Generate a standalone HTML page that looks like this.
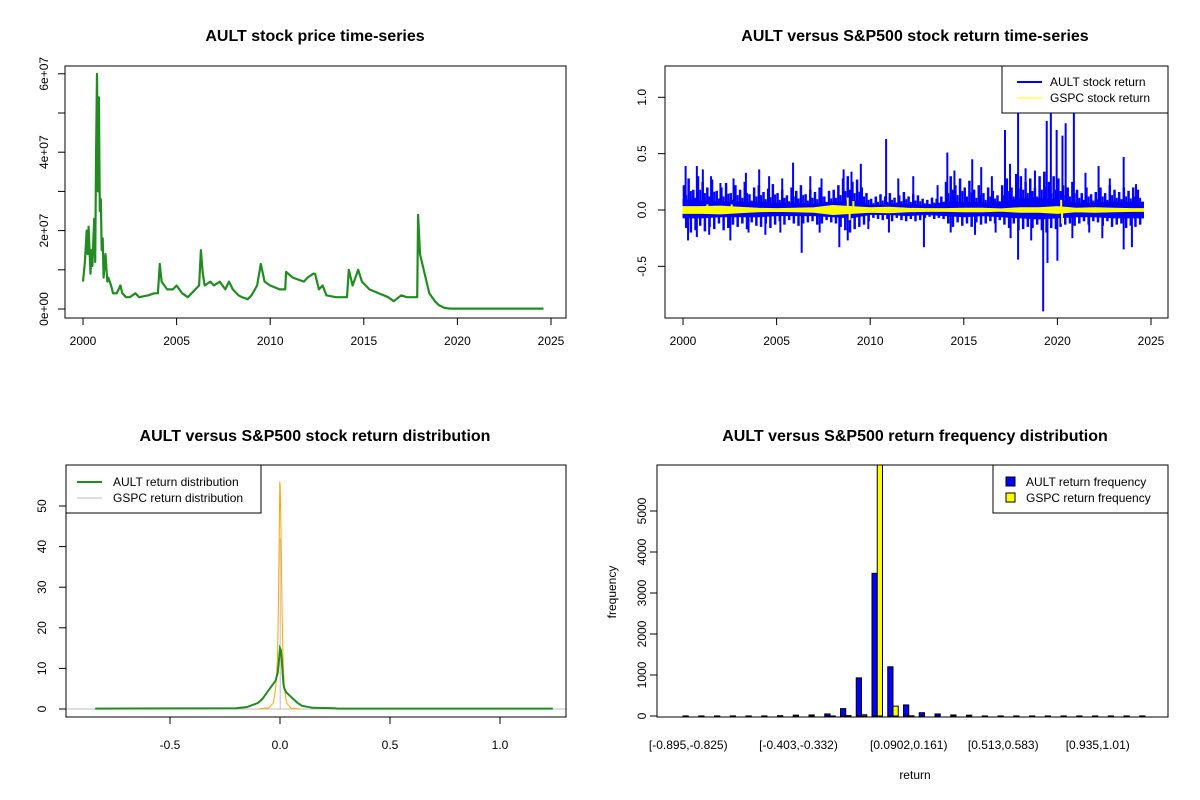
<!DOCTYPE html>
<html><head><meta charset="utf-8"><style>
html,body{margin:0;padding:0;background:#fff;}
svg{display:block;font-family:"Liberation Sans",Arial,sans-serif;}
</style></head><body>
<svg id="fig" width="1200" height="800" viewBox="0 0 1200 800" xmlns="http://www.w3.org/2000/svg">
<rect width="1200" height="800" fill="#fff"/>
</svg>
<script>
// ---------- Panel 1: price ----------
const priceYears = [2000.0,2000.1,2000.2,2000.25,2000.3,2000.4,2000.45,2000.5,2000.6,2000.65,2000.7,2000.75,2000.8,2000.85,2000.9,2000.95,2001.0,2001.05,2001.1,2001.2,2001.3,2001.35,2001.5,2001.6,2001.8,2002.0,2002.1,2002.3,2002.5,2002.8,2003.0,2003.5,2003.8,2004.0,2004.1,2004.2,2004.5,2004.8,2005.0,2005.3,2005.6,2005.8,2006.0,2006.2,2006.3,2006.4,2006.5,2006.8,2007.0,2007.3,2007.6,2007.8,2008.0,2008.3,2008.5,2008.8,2009.0,2009.3,2009.5,2009.7,2010.0,2010.5,2010.8,2010.85,2011.2,2011.5,2011.8,2012.0,2012.3,2012.4,2012.6,2012.8,2013.0,2013.5,2014.0,2014.1,2014.2,2014.4,2014.7,2014.9,2015.3,2015.8,2016.3,2016.6,2017.0,2017.3,2017.7,2017.85,2017.9,2018.0,2018.2,2018.5,2018.8,2019.0,2019.3,2019.6,2024.6];
const priceVals = [7,12,20,14,21,9,15,11,23,12,40,60,30,54,25,28,15,18,8,14,7,8,6,4,4,6,4,3,3,4,3,3.5,4,4,11.5,7,5,5,6,4,3,4,5,6,15,9,6,7,6,7,5,7,5,3.5,3,2.5,3.5,6,11.5,7,6,5,5,9.5,8,7.5,7,8,9,9,5,6,3.5,3,3,3,10,6,10,7,5,4,3,2,3.5,3,3,3,24,14,10,4,2,1,0.3,0.1,0.1];
const priceYTicks = [0,1e7,2e7,3e7,4e7,5e7,6e7];
const priceYLabels = ["0e+00","","2e+07","","4e+07","","6e+07"];
const yearTicks = [2000,2005,2010,2015,2020,2025];

// ---------- Panel 2: returns ----------
const bandYears = [2000,2001,2002,2003,2004,2005,2006,2007,2008,2009,2010,2011,2012,2013,2014,2015,2016,2017,2018,2019,2020,2021,2022,2023,2024,2024.6];
const aultBandUp = [.09,.08,.07,.07,.07,.06,.06,.05,.07,.09,.04,.05,.05,.04,.07,.07,.06,.07,.1,.1,.09,.06,.06,.07,.07,.07];
const aultBandLo = [-.07,-.07,-.06,-.06,-.06,-.05,-.05,-.05,-.06,-.07,-.04,-.04,-.05,-.04,-.05,-.06,-.05,-.06,-.07,-.08,-.07,-.06,-.06,-.07,-.07,-.07];
const gspcBandUp = [.03,.03,.035,.025,.015,.012,.015,.02,.04,.03,.02,.025,.015,.012,.012,.015,.015,.01,.02,.02,.03,.015,.02,.015,.012,.012];
const gspcBandLo = [-.03,-.03,-.035,-.025,-.015,-.012,-.015,-.02,-.04,-.03,-.02,-.025,-.015,-.012,-.012,-.015,-.015,-.01,-.02,-.02,-.03,-.015,-.02,-.015,-.012,-.012];
const medYears = [2000.05,2000.3,2000.55,2000.8,2001.05,2001.3,2001.55,2001.8,2002.05,2002.3,2002.55,2002.8,2003.05,2003.3,2003.55,2003.8,2004.05,2004.3,2004.55,2004.8,2005.05,2005.3,2005.55,2005.8,2006.05,2006.3,2006.55,2006.8,2007.05,2007.3,2007.55,2007.8,2008.05,2008.3,2008.55,2008.8,2009.05,2009.3,2009.55,2009.8,2010.05,2010.3,2010.55,2010.8,2011.05,2011.3,2011.55,2011.8,2012.05,2012.3,2012.55,2012.8,2013.05,2013.3,2013.55,2013.8,2014.05,2014.3,2014.55,2014.8,2015.05,2015.3,2015.55,2015.8,2016.05,2016.3,2016.55,2016.8,2017.05,2017.3,2017.55,2017.8,2018.05,2018.3,2018.55,2018.8,2019.05,2019.3,2019.55,2019.8,2020.05,2020.3,2020.55,2020.8,2021.05,2021.3,2021.55,2021.8,2022.05,2022.3,2022.55,2022.8,2023.05,2023.3,2023.55,2023.8,2024.05,2024.3];
const medUp = [.22,.28,.18,.3,.25,.2,.27,.17,.2,.24,.15,.22,.18,.25,.14,.2,.22,.16,.19,.23,.15,.18,.13,.2,.17,.22,.14,.18,.16,.2,.12,.17,.18,.22,.28,.3,.25,.27,.2,.15,.1,.12,.14,.12,.15,.11,.13,.16,.12,.14,.13,.1,.09,.11,.1,.12,.25,.3,.22,.28,.2,.26,.18,.22,.15,.2,.17,.13,.22,.28,.2,.32,.3,.25,.28,.2,.3,.34,.25,.3,.28,.22,.2,.25,.18,.15,.2,.14,.16,.2,.15,.22,.18,.16,.2,.17,.2,.18];
const medDown = [-.16,-.2,-.18,-.14,-.19,-.15,-.17,-.12,-.18,-.16,-.13,-.15,-.12,-.17,-.11,-.14,-.15,-.12,-.16,-.13,-.1,-.13,-.09,-.12,-.14,-.12,-.11,-.1,-.13,-.12,-.09,-.11,-.12,-.15,-.18,-.2,-.17,-.15,-.13,-.1,-.07,-.08,-.09,-.08,-.1,-.07,-.09,-.1,-.08,-.1,-.09,-.07,-.06,-.08,-.07,-.08,-.12,-.15,-.11,-.14,-.12,-.15,-.11,-.13,-.12,-.1,-.12,-.09,-.13,-.16,-.12,-.18,-.17,-.15,-.16,-.13,-.18,-.2,-.16,-.17,-.15,-.13,-.12,-.14,-.12,-.1,-.13,-.1,-.11,-.14,-.1,-.15,-.13,-.12,-.16,-.14,-.15,-.13];
const spikeYears = [2000.14,2000.74,2001.06,2001.5,2002.0,2002.7,2003.36,2004.07,2004.6,2005.3,2005.88,2006.8,2007.4,2008.58,2009.0,2009.5,2010.85,2011.5,2012.3,2013.6,2014.12,2014.5,2015.45,2015.93,2016.5,2017.2,2017.47,2017.9,2018.3,2018.8,2019.43,2019.65,2019.96,2020.27,2020.44,2020.88,2021.5,2022.2,2022.8,2023.54,2024.2,
  2000.27,2000.74,2001.4,2002.53,2003.5,2004.4,2005.2,2006.34,2007.3,2008.35,2008.8,2009.9,2011.0,2012.87,2014.3,2015.6,2016.7,2017.5,2017.9,2018.6,2019.24,2019.47,2020.0,2020.8,2021.7,2022.4,2023.54,2023.98];
const spikeVals = [.39,.39,.36,.3,.24,.28,.33,.36,.3,.28,.42,.3,.28,.36,.34,.41,.63,.28,.3,.22,.51,.35,.45,.38,.3,.71,.41,.87,.37,.35,.79,.86,.71,.66,.77,.87,.33,.39,.28,.47,.23,
  -.27,-.24,-.22,-.27,-.2,-.22,-.2,-.38,-.2,-.33,-.27,-.17,-.2,-.33,-.2,-.22,-.2,-.25,-.44,-.27,-.9,-.47,-.45,-.25,-.2,-.25,-.35,-.33];
const gspcSpikeYears = [2008.8,2008.9,2009.1,2020.2,2020.25,2001.3,2002.6];
const gspcSpikeVals = [.11,-.09,.08,.09,-.12,.05,.05];
const retYTicks = [-0.5,0,0.5,1.0];
const retYLabels = ["-0.5","0.0","0.5","1.0"];

// ---------- Panel 3: densities ----------
const aultDensX = [-0.84,-0.2,-0.15,-0.1,-0.08,-0.06,-0.04,-0.02,-0.01,-0.003,0,0.004,0.008,0.012,0.016,0.02,0.03,0.04,0.06,0.08,0.1,0.15,0.25,0.26,1.24];
const aultDensY = [0.1,0.2,0.5,1.5,2.5,4,5.5,7,9,13,15,14.5,12,9,6,5,4,3.5,2.5,1.5,0.8,0.3,0.2,0.1,0.1];
const gspcDensX = [-0.1,-0.05,-0.03,-0.02,-0.012,-0.008,-0.004,-0.001,0.001,0.004,0.007,0.01,0.014,0.02,0.03,0.05,0.09];
const gspcDensY = [0,0.3,1.5,5,12,22,40,56,55,45,35,22,12,5,1.5,0.2,0];
const densXTicks = [-0.5,0,0.5,1.0];
const densXLabels = ["-0.5","0.0","0.5","1.0"];
const densYTicks = [0,10,20,30,40,50];

// ---------- Panel 4: histogram ----------
const binLabels = ["[-0.895,-0.825)","","","","","","","[-0.403,-0.332)","","","","","","","[0.0902,0.161)","","","","","","[0.513,0.583)","","","","","","[0.935,1.01)","","",""];
const aultFreq = [2,2,2,2,2,2,8,20,25,50,180,930,3480,1200,270,80,50,25,20,2,2,2,2,2,2,2,2,2,2,2];
const gspcFreq = [0,0,0,0,0,0,0,0,0,2,10,30,6200,240,5,0,0,0,0,0,0,0,0,0,0,0,0,0,0,0];
const freqYTicks = [0,1000,2000,3000,4000,5000];

const NS = "http://www.w3.org/2000/svg";
const svg = document.getElementById('fig');
function el(tag, attrs, parent) {
  const e = document.createElementNS(NS, tag);
  for (const k in attrs) e.setAttribute(k, attrs[k]);
  (parent || svg).appendChild(e);
  return e;
}
function txt(str, x, y, size, opts, parent) {
  const t = el('text', Object.assign({x:x, y:y, 'font-size':size, 'text-anchor':'middle', fill:'#000'}, opts||{}), parent);
  t.textContent = str;
  return t;
}
function clip(id, x, y, w, h) {
  const d = el('clipPath', {id:id});
  el('rect', {x:x, y:y, width:w, height:h}, d);
}
function poly(xs, ys, sx, sy) {
  return xs.map((v,i)=>sx(v).toFixed(1)+','+sy(ys[i]).toFixed(1)).join(' ');
}

// ===== Panel 1 =====
(function(){
  const g = el('g', {});  
  const sx = v => 83 + (v-2000)*18.72;
  const sy = v => 309 - v/1e6*3.92;
  const pts = priceYears.map((y,i)=>sx(y).toFixed(1)+','+sy(priceVals[i]*1e6).toFixed(1)).join(' ');
  const line = el('polyline', {points:pts, fill:'none', stroke:'#228B22', 'stroke-width':2.2, 'stroke-linejoin':'round'}, g);
   
  const box = el('rect', {x:65, y:66, width:501, height:252, fill:'none', stroke:'#000'}, g);
   
  yearTicks.forEach(y=>{ el('line',{x1:sx(y),x2:sx(y),y1:318,y2:325,stroke:'#000'},g); txt(String(y), sx(y), 345, 12, {}, g); });
  el('line',{x1:sx(2000),x2:sx(2025),y1:318,y2:318,stroke:'#000'},g);
  priceYTicks.forEach((v,i)=>{ el('line',{x1:58,x2:65,y1:sy(v),y2:sy(v),stroke:'#000'},g);
    if(priceYLabels[i]) txt(priceYLabels[i], 48, sy(v), 12, {transform:'rotate(-90 48 '+sy(v)+')'}, g); });
  const t = txt('AULT stock price time-series', 315, 41, 16, {'font-weight':'bold'}, g);
   
})();

// ===== Panel 2 =====
(function(){
  clip('c2', 665, 66, 503, 252);
  const g = el('g', {});  
  const sx = v => 683 + (v-2000)*18.72;
  const sy = v => 210 - v*112.7;
  const inner = el('g', {'clip-path':'url(#c2)'}, g);
  const bx = bandYears.concat(bandYears.slice().reverse());
  const band = el('polygon', {points: poly(bx, aultBandUp.concat(aultBandLo.slice().reverse()), sx, sy), fill:'#0000FF', stroke:'#0000FF', 'stroke-width':1}, inner);
   
  medYears.forEach((y,i)=>{
    const a = el('line',{x1:sx(y),x2:sx(y),y1:sy(0),y2:sy(medUp[i]),stroke:'#0000FF','stroke-width':2.5}, inner);
     
    const b = el('line',{x1:sx(y+0.12),x2:sx(y+0.12),y1:sy(0),y2:sy(medDown[i]),stroke:'#0000FF','stroke-width':2.5}, inner);
     
    const c = el('line',{x1:sx(y+0.12),x2:sx(y+0.12),y1:sy(0),y2:sy(medUp[i]*0.6),stroke:'#0000FF','stroke-width':2}, inner);
     
  });
  spikeYears.forEach((y,i)=>{
    const s = el('line',{x1:sx(y),x2:sx(y),y1:sy(0),y2:sy(spikeVals[i]),stroke:'#0000FF','stroke-width':2}, inner);
     
  });
  const gb = el('polygon', {points: poly(bx, gspcBandUp.concat(gspcBandLo.slice().reverse()), sx, sy), fill:'#FFFF00', stroke:'#FFFF00', 'stroke-width':1}, inner);
   
  gspcSpikeYears.forEach((y,i)=>{
    const s = el('line',{x1:sx(y),x2:sx(y),y1:sy(0),y2:sy(gspcSpikeVals[i]),stroke:'#FFFF00','stroke-width':2}, inner);
     
  });
  el('rect', {x:665, y:66, width:503, height:252, fill:'none', stroke:'#000'}, g);
  yearTicks.forEach(y=>{ el('line',{x1:sx(y),x2:sx(y),y1:318,y2:325,stroke:'#000'},g); txt(String(y), sx(y), 345, 12, {}, g); });
  el('line',{x1:sx(2000),x2:sx(2025),y1:318,y2:318,stroke:'#000'},g);
  retYTicks.forEach((v,i)=>{ el('line',{x1:658,x2:665,y1:sy(v),y2:sy(v),stroke:'#000'},g);
    txt(retYLabels[i], 646, sy(v), 12, {transform:'rotate(-90 646 '+sy(v)+')'}, g); });
  const leg = el('g',{},g);  
  el('rect',{x:1002,y:66,width:166,height:47,fill:'#fff',stroke:'#000'},leg);
  el('line',{x1:1017,x2:1042,y1:82,y2:82,stroke:'#0000FF','stroke-width':2},leg);
  el('line',{x1:1017,x2:1042,y1:98,y2:98,stroke:'#FFFF00','stroke-width':1},leg);
  txt('AULT stock return',1050,86,12,{'text-anchor':'start'},leg);
  txt('GSPC stock return',1050,102,12,{'text-anchor':'start'},leg);
  const t = txt('AULT versus S&P500 stock return time-series', 915, 41, 16, {'font-weight':'bold'}, g);
   
})();

// ===== Panel 3 =====
(function(){
  clip('c3', 66, 465, 500, 252);
  const g = el('g', {});  
  const sx = v => 280 + v*220;
  const sy = v => 709 - v*4.06;
  const inner = el('g', {'clip-path':'url(#c3)'}, g);
  el('line',{x1:66,x2:566,y1:sy(0),y2:sy(0),stroke:'#BEBEBE','stroke-width':1},inner);
  el('line',{x1:sx(0.001),x2:sx(0.001),y1:sy(0),y2:sy(42),stroke:'#BEBEBE','stroke-width':1},inner);
  const gl = el('polyline',{points:poly(gspcDensX,gspcDensY,sx,sy),fill:'none',stroke:'#FFA500','stroke-width':1},inner);
   
  const al = el('polyline',{points:poly(aultDensX,aultDensY,sx,sy),fill:'none',stroke:'#228B22','stroke-width':2},inner);
   
  el('rect', {x:66, y:465, width:500, height:252, fill:'none', stroke:'#000'}, g);
  densXTicks.forEach((v,i)=>{ el('line',{x1:sx(v),x2:sx(v),y1:717,y2:724,stroke:'#000'},g); txt(densXLabels[i], sx(v), 749, 12, {}, g); });
  el('line',{x1:sx(-0.5),x2:sx(1.0),y1:717,y2:717,stroke:'#000'},g);
  densYTicks.forEach(v=>{ el('line',{x1:59,x2:66,y1:sy(v),y2:sy(v),stroke:'#000'},g);
    txt(String(v), 46, sy(v), 12, {transform:'rotate(-90 46 '+sy(v)+')'}, g); });
  el('line',{x1:66,x2:66,y1:sy(0),y2:sy(50),stroke:'#000'},g);
  const leg = el('g',{},g);  
  el('rect',{x:66,y:465,width:195,height:48,fill:'#fff',stroke:'#000'},leg);
  el('line',{x1:77,x2:102,y1:482,y2:482,stroke:'#228B22','stroke-width':2},leg);
  el('line',{x1:77,x2:102,y1:498,y2:498,stroke:'#BEBEBE','stroke-width':1},leg);
  txt('AULT return distribution',113,486,12,{'text-anchor':'start'},leg);
  txt('GSPC return distribution',113,502,12,{'text-anchor':'start'},leg);
  const t = txt('AULT versus S&P500 stock return distribution', 315, 441, 16, {'font-weight':'bold'}, g);
   
})();

// ===== Panel 4 =====
(function(){
  clip('c4', 657, 465, 511, 252);
  const g = el('g', {});  
  const unit = 5.25, gx0 = 683;
  const sy = v => 716 - v*0.041;
  const inner = el('g', {'clip-path':'url(#c4)'}, g);
  aultFreq.forEach((v,k)=>{
    const x = gx0 + k*3*unit;
    const b = el('rect',{x:x, y:sy(v), width:unit, height:Math.max(0,sy(0)-sy(v)), fill:'#0000FF', stroke:'#000','stroke-width':1}, inner);
     
    const gv = gspcFreq[k];
    const b2 = el('rect',{x:x+unit, y:sy(gv), width:unit, height:Math.max(0,sy(0)-sy(gv)), fill:'#FFFF00', stroke:'#000','stroke-width':1}, inner);
     
    if (binLabels[k]) txt(binLabels[k], x+unit, 749, 12, {}, g);
  });
  el('rect', {x:657, y:465, width:511, height:252, fill:'none', stroke:'#000'}, g);
  freqYTicks.forEach(v=>{ el('line',{x1:650,x2:657,y1:sy(v),y2:sy(v),stroke:'#000'},g);
    txt(String(v), 646, sy(v), 12, {transform:'rotate(-90 646 '+sy(v)+')'}, g); });
  el('line',{x1:657,x2:657,y1:sy(0),y2:sy(5000),stroke:'#000'},g);
  txt('frequency', 616, 592, 12, {transform:'rotate(-90 616 592)'}, g);
  txt('return', 915, 779, 12, {}, g);
  const leg = el('g',{},g);  
  el('rect',{x:993,y:465,width:175,height:48,fill:'#fff',stroke:'#000'},leg);
  el('rect',{x:1006,y:477,width:9,height:9,fill:'#0000FF',stroke:'#000'},leg);
  el('rect',{x:1006,y:493,width:9,height:9,fill:'#FFFF00',stroke:'#000'},leg);
  txt('AULT return frequency',1026,486,12,{'text-anchor':'start'},leg);
  txt('GSPC return frequency',1026,502,12,{'text-anchor':'start'},leg);
  const t = txt('AULT versus S&P500 return frequency distribution', 915, 441, 16, {'font-weight':'bold'}, g);
   
})();
</script>
</body></html>
